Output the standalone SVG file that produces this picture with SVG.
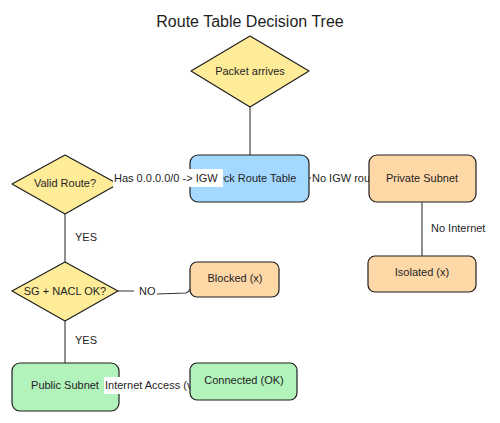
<svg xmlns="http://www.w3.org/2000/svg" width="500" height="423" viewBox="0 0 500 423">
<style>
.t{font-family:"Liberation Sans",Arial,sans-serif;font-size:11px;fill:#1e1e1e;dominant-baseline:central}
.c{text-anchor:middle}
.dia{fill:#ffec99;stroke:#1e1e1e;stroke-width:1.2;stroke-linejoin:round}
.box{stroke:#1e1e1e;stroke-width:1.2}
.blue{fill:#a5d8ff}.orange{fill:#ffd8a8}.green{fill:#b2f2bb}
.edge{fill:none;stroke:#333;stroke-width:1.1}
.bg{fill:#fff}
</style>
<rect width="500" height="423" fill="#fff"/>
<text x="250" y="21" class="t c" style="font-size:16px">Route Table Decision Tree</text>
<g id="packet"><polygon class="dia" points="250,36 309,71 250,107 191,71"/><text x="250" y="71" class="t c">Packet arrives</text></g>
<g id="valid"><polygon class="dia" points="65,155 118,184 65,214 12,184"/><text x="65" y="183" class="t c">Valid Route?</text></g>
<g id="sgnacl"><polygon class="dia" points="65,262 118,291 65,321 12,291"/><text x="65" y="291" class="t c">SG + NACL OK?</text></g>
<g id="routetable"><rect class="box blue" x="190" y="155" width="119" height="47" rx="8"/><text x="250" y="178" class="t c">Check Route Table</text></g>
<g id="public"><rect class="box green" x="12" y="363" width="107" height="48" rx="8"/><text x="65" y="385" class="t c">Public Subnet</text></g>
<g id="blocked"><rect class="box orange" x="190" y="262" width="89" height="35" rx="7"/><text x="235" y="278" class="t c">Blocked (x)</text></g>
<g id="isolated"><rect class="box orange" x="368" y="256" width="108" height="36" rx="7"/><text x="422" y="272" class="t c">Isolated (x)</text></g>
<g id="connectors">
<path class="edge" d="M250,107 L250,155"/>
<path class="edge" d="M190,178 L118,184"/>
<rect class="bg" x="113" y="169" width="110" height="18"/>
<text x="114" y="178" class="t">Has 0.0.0.0/0 -&gt; IGW</text>
<path class="edge" d="M309,178 L369,178"/>
<rect class="bg" x="311" y="170" width="70" height="17"/>
<text x="312" y="178" class="t">No IGW route</text>
<path class="edge" d="M422,202 L422,256"/>
<text x="431" y="228" class="t">No Internet</text>
<path class="edge" d="M65,214 L65,262"/>
<text x="75" y="237" class="t">YES</text>
<path class="edge" d="M118,291 L134,291 M157,294 L186,293 Q189,292 190,289"/>
<text x="139" y="291" class="t">NO</text>
<path class="edge" d="M65,321 L65,363"/>
<text x="75" y="340" class="t">YES</text>
<path class="edge" d="M119,385 L190,385"/>
<rect class="bg" x="104" y="377" width="90" height="17"/>
<text x="105" y="385" class="t">Internet Access (via IGW)</text>
</g>
<g id="private"><rect class="box orange" x="369" y="155" width="107" height="47" rx="8"/><text x="422" y="178" class="t c">Private Subnet</text></g>
<g id="connected"><rect class="box green" x="190" y="363" width="107" height="37" rx="7"/><text x="244" y="380" class="t c">Connected (OK)</text></g>
</svg>
